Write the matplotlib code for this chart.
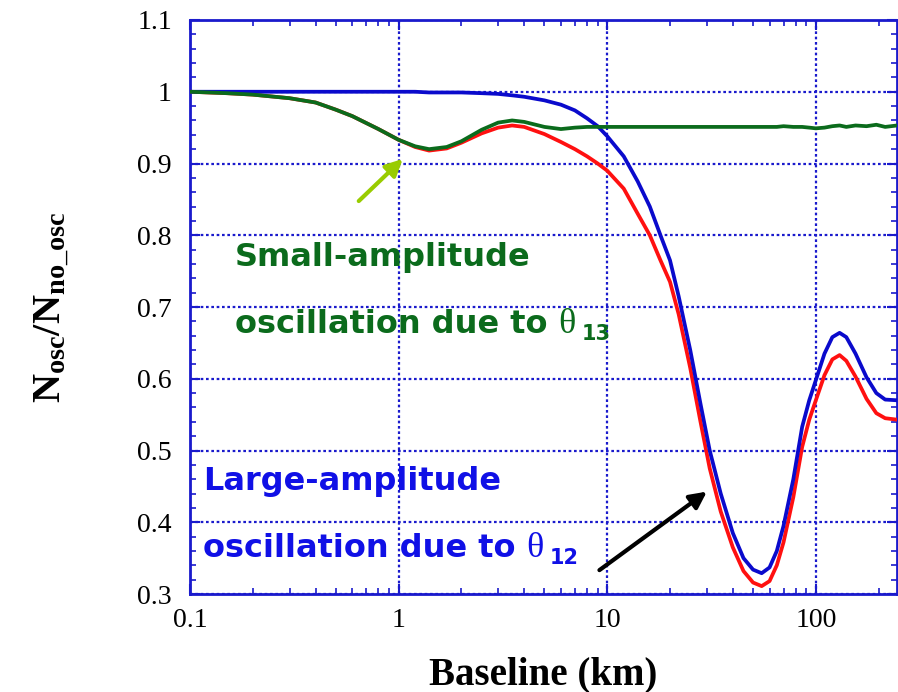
import matplotlib
matplotlib.use("Agg")
from matplotlib import pyplot as plt
from matplotlib.ticker import MultipleLocator, FuncFormatter, LogLocator, NullFormatter
from matplotlib.transforms import offset_copy

# baseline (km) sample points
baseline = [0.1, 0.15, 0.2, 0.3, 0.4, 0.5, 0.6, 0.8, 1.0, 1.2, 1.4, 1.7, 2.0, 2.5,
            3.0, 3.5, 4.0, 5.0, 6.0, 7.0, 8.0, 9.0, 10, 12, 14, 16, 18, 20, 22,
            25, 28, 31, 35, 40, 45, 50, 55, 60, 65, 70, 78, 86, 93, 100, 110,
            120, 130, 140, 155, 175, 195, 215, 245]

ratio_blue = [1.0, 1.0, 1.0, 1.0, 1.0, 1.0, 1.0, 1.0, 1.0, 1.0, 0.999, 0.999, 0.999, 0.998,
              0.997, 0.995, 0.993, 0.988, 0.982, 0.974, 0.963, 0.952, 0.938, 0.91, 0.875, 0.84,
              0.80, 0.765, 0.715, 0.64, 0.565, 0.50, 0.44, 0.385, 0.35, 0.334, 0.329, 0.337,
              0.36, 0.395, 0.46, 0.533, 0.57, 0.598, 0.635, 0.658, 0.664, 0.658, 0.635, 0.602,
              0.58, 0.571, 0.570]

ratio_red = [1.0, 0.998, 0.996, 0.991, 0.985, 0.975, 0.966, 0.948, 0.933, 0.923, 0.918, 0.921,
             0.929, 0.942, 0.950, 0.953, 0.951, 0.941, 0.930, 0.920, 0.910, 0.900, 0.890,
             0.865, 0.830, 0.800, 0.765, 0.735, 0.69, 0.615, 0.54, 0.475, 0.415, 0.365, 0.332,
             0.316, 0.311, 0.318, 0.34, 0.372, 0.435, 0.505, 0.543, 0.570, 0.605, 0.627,
             0.633, 0.625, 0.603, 0.572, 0.552, 0.545, 0.543]

ratio_green = [1.0, 0.998, 0.996, 0.991, 0.985, 0.975, 0.966, 0.948, 0.933, 0.924, 0.920, 0.923,
               0.931, 0.947, 0.957, 0.960, 0.958, 0.951, 0.948, 0.950, 0.951, 0.951, 0.951,
               0.951, 0.951, 0.951, 0.951, 0.951, 0.951, 0.951, 0.951, 0.951, 0.951, 0.951,
               0.951, 0.951, 0.951, 0.951, 0.951, 0.952, 0.951, 0.951, 0.950, 0.949, 0.950,
               0.952, 0.953, 0.951, 0.953, 0.952, 0.954, 0.951, 0.953]

y_ticks = [0.3, 0.4, 0.5, 0.6, 0.7, 0.8, 0.9, 1.0, 1.1]

axis_blue = "#1a1acc"
green = "#0b6b1c"
blue_txt = "#1010e6"
serif = ["Liberation Serif", "DejaVu Serif"]

plt.rcParams["mathtext.fontset"] = "custom"
plt.rcParams["mathtext.rm"] = "Liberation Serif"
plt.rcParams["mathtext.bf"] = "Liberation Serif:bold"

fig = plt.figure(figsize=(8.98, 6.92), dpi=100)
ax = fig.add_axes([0.2116, 0.1416, 0.7873, 0.8295])

ax.plot(baseline, ratio_red, color="#ff1010", lw=2.7, zorder=3)
ax.plot(baseline, ratio_blue, color="#0a0acc", lw=2.7, zorder=4)
ax.plot(baseline, ratio_green, color=green, lw=2.7, zorder=5)

ax.set_xscale("log")
ax.set_xlim(0.1, 245)
ax.set_ylim(0.3, 1.1)
ax.set_yticks(y_ticks)
ax.yaxis.set_minor_locator(MultipleLocator(0.02))
ax.yaxis.set_major_formatter(FuncFormatter(lambda v, p: f"{v:g}"))
ax.xaxis.set_major_locator(LogLocator(base=10))
ax.xaxis.set_minor_locator(LogLocator(base=10, subs=range(2, 10)))
ax.xaxis.set_minor_formatter(NullFormatter())
ax.xaxis.set_major_formatter(FuncFormatter(lambda v, p: f"{v:g}"))

ax.grid(True, which="major", color=axis_blue, linestyle=(0, (1.2, 1.2)), lw=1.6)
for s in ax.spines.values():
    s.set_color(axis_blue)
    s.set_linewidth(2)
ax.tick_params(which="both", direction="in", top=True, right=True, color=axis_blue)
ax.tick_params(which="major", length=7, width=1.5, labelsize=20)
ax.tick_params(axis="x", which="major", pad=10)
ax.tick_params(axis="y", which="major", pad=13)
ax.tick_params(which="minor", length=4, width=1.2)
for lab in ax.get_xticklabels() + ax.get_yticklabels():
    lab.set_family(serif)

ax.set_xlabel("Baseline (km)", family=serif, fontsize=28, fontweight="bold", labelpad=17)
ax.set_ylabel(r"$\mathbf{N_{osc}/N_{no\_osc}}$", fontsize=29, labelpad=48)

txt = dict(fontsize=23, fontweight="bold", family=["DejaVu Sans"], zorder=6)


def theta_line(x, y, color, sub):
    # "oscillation due to" + serif theta + subscript, placed one after another
    t = ax.text(x, y, "oscillation due to ", color=color, transform=ax.transAxes, **txt)
    fig.canvas.draw()
    bb = t.get_window_extent()
    tr = offset_copy(ax.transAxes, fig=fig, x=bb.width, y=0, units="dots")
    th = ax.text(x, y, "θ", color=color, transform=tr, fontsize=26, family=serif, zorder=6)
    fig.canvas.draw()
    bb2 = th.get_window_extent()
    tr2 = offset_copy(ax.transAxes, fig=fig, x=bb.width + bb2.width + 6, y=-7, units="dots")
    ax.text(x, y, sub, color=color, transform=tr2, fontsize=15, fontweight="bold",
            family=["DejaVu Sans"], zorder=6)


ax.text(0.063, 0.571, "Small-amplitude", color=green, transform=ax.transAxes, **txt)
theta_line(0.063, 0.455, green, "13")
ax.text(0.018, 0.181, "Large-amplitude", color=blue_txt, transform=ax.transAxes, **txt)
theta_line(0.018, 0.064, blue_txt, "12")

ax.annotate("", xy=(1.07, 0.909), xytext=(0.63, 0.845),
            arrowprops=dict(arrowstyle="-|>", color="#99cc00", lw=3, mutation_scale=25))
ax.annotate("", xy=(30.8, 0.445), xytext=(8.95, 0.331),
            arrowprops=dict(arrowstyle="-|>", color="black", lw=3, mutation_scale=25))

fig.savefig("out.png", dpi=100)
